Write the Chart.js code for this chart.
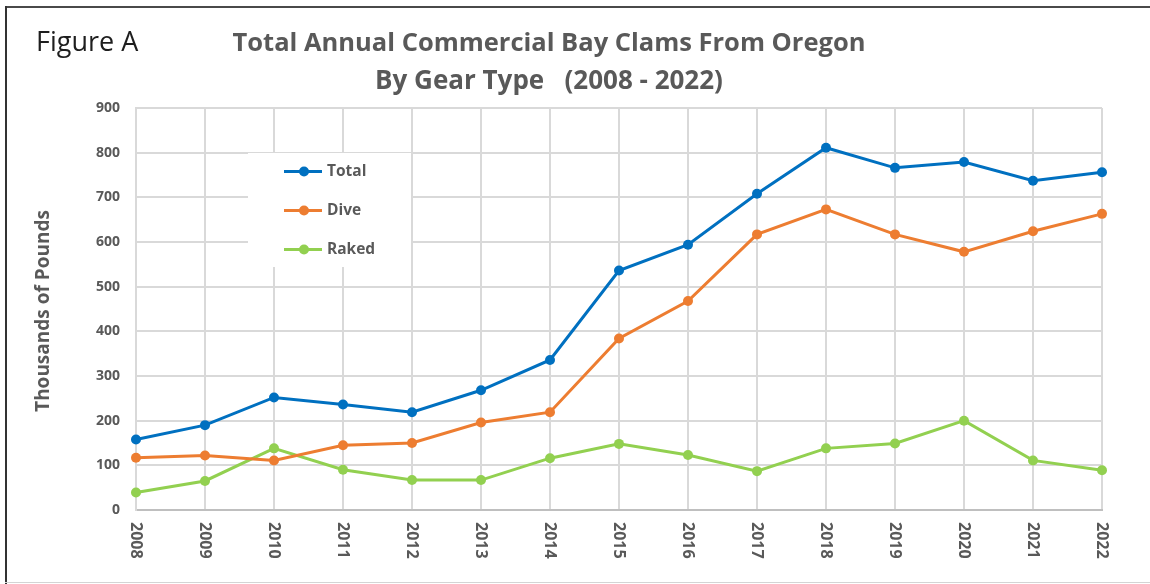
<!DOCTYPE html>
<html><head><meta charset="utf-8">
<script src="https://cdn.jsdelivr.net/npm/chart.js@4.4.1/dist/chart.umd.min.js"></script>
<style>
html,body{margin:0;padding:0;background:#fff;}
#wrap{position:relative;width:1150px;height:584px;overflow:hidden;}
canvas{position:absolute;left:0;top:0;}
.fr{position:absolute;}
</style></head><body>
<div id="wrap">
<canvas id="c" width="1150" height="584"></canvas>
<div class="fr" style="left:5px;top:6px;width:1145px;height:2px;background:#4a4a4a;"></div>
<div class="fr" style="left:5px;top:6px;width:2px;height:578px;background:#333;"></div>
<div class="fr" style="left:5px;top:582px;width:1145px;height:1px;background:#d4d4d4;"></div>
</div>
<script>
const years = ['2008','2009','2010','2011','2012','2013','2014','2015','2016','2017','2018','2019','2020','2021','2022'];
const total = [158,190,252,236,219,268,336,536,594,708,811,766,779,737,756];
const dive  = [117,122,111,145,150,196,219,384,468,617,673,617,578,624,663];
const raked = [39,65,138,90,67,67,116,148,123,87,138,149,200,111,89];
const seriesNames = ['Total','Dive','Raked'];
const seriesColors = ['#0070C0','#ED7D31','#92D050'];
const figureLabel = 'Figure A';
const titleLines = ['Total Annual Commercial Bay Clams From Oregon','By Gear Type   (2008 - 2022)'];
const yTitle = 'Thousands of Pounds';

const FONT = '"Open Sans", "DejaVu Sans", sans-serif';
const TXT = '#595959';

function ds(label, data, color){
  return {label, data, borderColor: color, backgroundColor: color,
    borderWidth: 3, pointRadius: 5, pointHoverRadius: 5, pointBorderWidth: 0,
    tension: 0, clip: false};
}

const deco = {
  id: 'deco',
  beforeDatasetsDraw(chart){
    const ctx = chart.ctx;
    ctx.save();
    ctx.fillStyle = '#fff';
    ctx.fillRect(248, 153, 163, 114);
    ctx.restore();
  },
  afterDraw(chart){
    const ctx = chart.ctx;
    const xs = chart.scales.x;
    ctx.save();
    ctx.fillStyle = '#1e1e1e';
    ctx.font = '27px ' + FONT;
    ctx.textAlign = 'left'; ctx.textBaseline = 'alphabetic';
    ctx.fillText(figureLabel, 36, 51);
    ctx.fillStyle = TXT;
    ctx.font = 'bold 25.5px ' + FONT;
    ctx.textAlign = 'center';
    ctx.fillText(titleLines[0], 549, 51);
    ctx.font = 'bold 26px ' + FONT;
    ctx.fillText(titleLines[1], 549, 89);
    ctx.save();
    ctx.translate(49, 311);
    ctx.rotate(-Math.PI/2);
    ctx.font = 'bold 19px ' + FONT;
    ctx.textAlign = 'center'; ctx.textBaseline = 'alphabetic';
    ctx.fillText(yTitle, 0, 0);
    ctx.restore();
    ctx.font = 'bold 16px ' + FONT;
    ctx.fillStyle = TXT;
    years.forEach((y, i) => {
      const px = xs.getPixelForValue(i);
      ctx.save();
      ctx.translate(px, 522);
      ctx.rotate(Math.PI/2);
      ctx.textAlign = 'left'; ctx.textBaseline = 'middle';
      ctx.fillText(y, 0, 0);
      ctx.restore();
    });
    const rows = [171.5, 210.5, 249.5];
    chart.data.datasets.forEach((d, i) => {
      const yy = rows[i];
      ctx.strokeStyle = d.borderColor; ctx.lineWidth = 3;
      ctx.beginPath(); ctx.moveTo(284, yy); ctx.lineTo(322, yy); ctx.stroke();
      ctx.fillStyle = d.borderColor;
      ctx.beginPath(); ctx.arc(304, yy, 5, 0, Math.PI*2); ctx.fill();
      ctx.fillStyle = TXT;
      ctx.font = 'bold 15.5px ' + FONT;
      ctx.textAlign = 'left'; ctx.textBaseline = 'middle';
      ctx.fillText(d.label, 327, yy);
    });
    ctx.restore();
  }
};

new Chart(document.getElementById('c'), {
  type: 'line',
  data: {
    labels: years,
    datasets: [ds(seriesNames[0], total, seriesColors[0]), ds(seriesNames[1], dive, seriesColors[1]), ds(seriesNames[2], raked, seriesColors[2])]
  },
  options: {
    responsive: false, animation: false, devicePixelRatio: 1,
    layout: {padding: {left: 0, right: 48, top: 108, bottom: 0}},
    plugins: {legend: {display: false}, title: {display: false}, tooltip: {enabled: false}},
    scales: {
      x: {
        type: 'category', offset: false,
        grid: {color: '#d9d9d9', lineWidth: 2, drawTicks: false},
        border: {color: '#bfbfbf', width: 2},
        ticks: {display: false},
        afterFit(s){ s.height = 74; s.paddingLeft = 0; s.paddingRight = 0; }
      },
      y: {
        min: 0, max: 900,
        ticks: {stepSize: 100, color: TXT, font: {family: FONT, size: 14, weight: 'bold'}, padding: 16},
        grid: {color: '#d9d9d9', lineWidth: 2, drawTicks: false},
        border: {color: '#d9d9d9', width: 2},
        afterFit(s){ s.width = 136; s.paddingTop = 0; s.paddingBottom = 0; }
      }
    }
  },
  plugins: [deco]
});
</script>
</body></html>
